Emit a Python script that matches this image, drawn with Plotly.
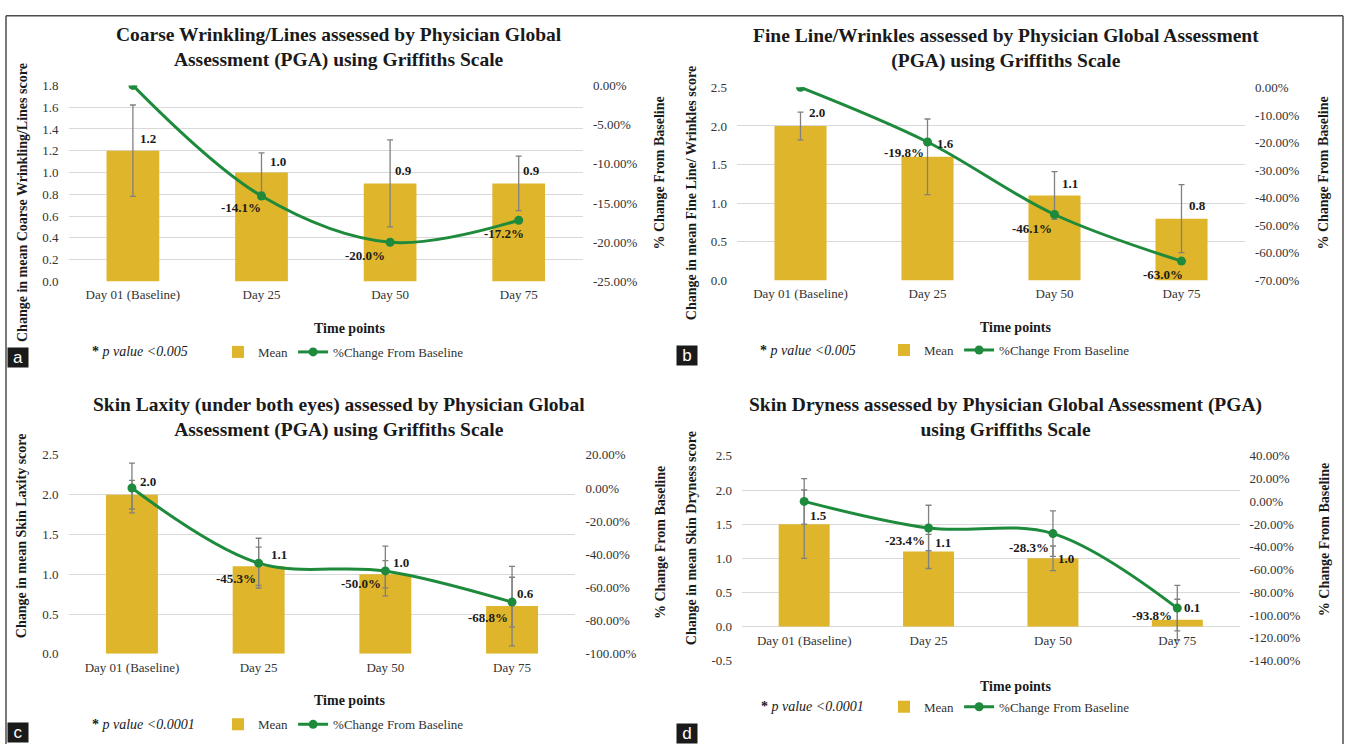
import plotly.graph_objects as go

W, H = 1345, 752

categories = ["Day 01 (Baseline)", "Day 25", "Day 50", "Day 75"]

# (a) Coarse wrinkling / lines
coarse_mean = [1.2, 1.0, 0.9, 0.9]
coarse_sd = [0.42, 0.18, 0.40, 0.25]
coarse_pct = [0.0, -14.1, -20.0, -17.2]

# (b) Fine lines / wrinkles
fine_mean = [2.0, 1.6, 1.1, 0.8]
fine_sd = [0.18, 0.49, 0.31, 0.44]
fine_pct = [0.0, -19.8, -46.1, -63.0]

# (c) Skin laxity under both eyes
laxity_mean = [2.0, 1.1, 1.0, 0.6]
laxity_sd = [0.18, 0.24, 0.17, 0.50]
laxity_pct = [0.0, -45.3, -50.0, -68.8]
laxity_pct_err = [15, 15, 15, 15]

# (d) Skin dryness
dryness_mean = [1.5, 1.1, 1.0, 0.1]
dryness_sd = [0.50, 0.25, 0.18, 0.30]
dryness_pct = [0.0, -23.4, -28.3, -93.8]
dryness_pct_err = [20, 20, 20, 20]

GOLD = "#DFB52B"
GREEN = "#1E8A3C"
ERR = "#808080"
GRID = "#D9D9D9"
INK = "#1A1A1A"
TICK = "#333333"
SERIF = "Liberation Serif"


def px_x(v):
    return v / W


def px_y(v):
    return 1 - v / H


def ticks(lo, hi, step, fmt):
    n = int(round((hi - lo) / step))
    vals = [round(lo + i * step, 6) for i in range(n + 1)]
    vals = [0.0 if abs(v) < 1e-9 else v for v in vals]
    return vals, [fmt.format(v) for v in vals]


panels = [
    dict(mean=coarse_mean, sd=coarse_sd, pct=coarse_pct, pct_err=None,
         title="Coarse Wrinkling/Lines assessed by Physician Global<br>Assessment (PGA) using Griffiths Scale",
         ytitle="Change in mean Coarse Wrinkling/Lines score", pvalue="0.005",
         y_rng=(0, 1.8, 0.2), y2_rng=(-25, 0, 5),
         box=(68.6, 80, 583, 280),
         title_xy=(339, 41.5), ytitle_xy=(22, 200), y2title_xy=(660, 170),
         xtitle_xy=(349, 328), pval_xy=(140, 352), legend_xy=(218, 352),
         letter="a", letter_xy=(18, 358),
         bar_shift=[(15, 12), (16, 11), (13, 13), (13, 13)],
         line_shift=[None, (-21, -12), (-25, -13), (-15, -13)]),
    dict(mean=fine_mean, sd=fine_sd, pct=fine_pct, pct_err=None,
         title="Fine Line/Wrinkles assessed by Physician Global Assessment<br>(PGA) using Griffiths Scale",
         ytitle="Change in mean Fine Line/ Wrinkles score", pvalue="0.005",
         y_rng=(0, 2.5, 0.5), y2_rng=(-70, 0, 10),
         box=(737, 82, 1245, 279),
         title_xy=(1006, 42.5), ytitle_xy=(691, 190), y2title_xy=(1324, 170),
         xtitle_xy=(1015, 327), pval_xy=(808, 350), legend_xy=(884, 350),
         letter="b", letter_xy=(687, 356),
         bar_shift=[(16, 13), (18, 13), (15, 12), (16, 13)],
         line_shift=[None, (-24, -11), (-23, -14), (-19, -13)]),
    dict(mean=laxity_mean, sd=laxity_sd, pct=laxity_pct, pct_err=laxity_pct_err,
         title="Skin Laxity (under both eyes) assessed by Physician Global<br>Assessment (PGA) using Griffiths Scale",
         ytitle="Change in mean Skin Laxity score", pvalue="0.0001",
         y_rng=(0, 2.5, 0.5), y2_rng=(-100, 20, 20),
         box=(68.6, 457, 575.4, 660),
         title_xy=(339, 418.5), ytitle_xy=(21, 540), y2title_xy=(660, 547),
         xtitle_xy=(349, 707.7), pval_xy=(143, 732), legend_xy=(218, 732),
         letter="c", letter_xy=(18, 740.5),
         bar_shift=[(16, 13), (20, 12), (16, 12), (13, 13)],
         line_shift=[None, (-23, -15), (-24, -13), (-24, -15)]),
    dict(mean=dryness_mean, sd=dryness_sd, pct=dryness_pct, pct_err=dryness_pct_err,
         title="Skin Dryness assessed by Physician Global Assessment (PGA)<br>using Griffiths Scale",
         ytitle="Change in mean Skin Dryness score", pvalue="0.0001",
         y_rng=(-0.5, 2.5, 0.5), y2_rng=(-140, 40, 20),
         box=(742, 458, 1239.5, 667),
         title_xy=(1005, 418.5), ytitle_xy=(691, 542), y2title_xy=(1324, 544),
         xtitle_xy=(1015, 693.3), pval_xy=(812, 714), legend_xy=(884, 714),
         letter="d", letter_xy=(687, 741.5),
         bar_shift=[(14, 9), (14, 9), (13, 0), (15, 12)],
         line_shift=[None, (-24, -12), (-24, -14), (-25, -7)]),
]

fig = go.Figure()
layout = dict(
    width=W, height=H, margin=dict(l=0, r=0, t=0, b=0),
    paper_bgcolor="white", plot_bgcolor="white",
    bargap=0.59, font=dict(family=SERIF, color=INK),
    annotations=[], shapes=[],
)

tick_font = dict(family=SERIF, size=13, color=TICK)
label_font = dict(family=SERIF, size=13, color=INK, weight="bold")

for i, p in enumerate(panels):
    k = i + 1
    xa = "x" if k == 1 else f"x{k}"
    ya_n, y2_n = 2 * k - 1, 2 * k
    ya = "y" if ya_n == 1 else f"y{ya_n}"
    y2a = f"y{y2_n}"
    left, top, right, bottom = p["box"]
    legend_id = "legend" if k == 1 else f"legend{k}"

    fig.add_trace(go.Bar(
        x=categories, y=p["mean"], name="Mean", xaxis=xa, yaxis=ya,
        marker=dict(color=GOLD, line=dict(width=0)),
        error_y=dict(type="data", array=p["sd"], color=ERR, thickness=1.3, width=3),
        legend=legend_id, hoverinfo="skip",
    ))
    line_err = None
    if p["pct_err"] is not None:
        line_err = dict(type="data", array=p["pct_err"], color=ERR, thickness=1.3, width=3)
    fig.add_trace(go.Scatter(
        x=categories, y=p["pct"], name="%Change From Baseline", xaxis=xa, yaxis=y2a,
        mode="lines+markers", line=dict(color=GREEN, width=3, shape="spline", smoothing=1),
        marker=dict(color=GREEN, size=9), error_y=line_err,
        legend=legend_id, hoverinfo="skip",
    ))

    lo, hi, st = p["y_rng"]
    y_dom = [px_y(bottom), px_y(top)]
    # category labels sit where the value axis crosses zero
    x_pos = y_dom[0] + (0 - lo) / (hi - lo) * (y_dom[1] - y_dom[0])
    layout["xaxis" if k == 1 else f"xaxis{k}"] = dict(
        domain=[px_x(left), px_x(right)], anchor="free", position=x_pos,
        type="category", showgrid=False, showline=False, zeroline=False, ticks="",
        tickfont=tick_font, ticklabelstandoff=4, fixedrange=True,
    )
    tv, tt = ticks(lo, hi, st, "{:.1f}")
    layout["yaxis" if ya_n == 1 else f"yaxis{ya_n}"] = dict(
        domain=y_dom, anchor=xa, range=[lo, hi],
        tickvals=tv, ticktext=tt, showgrid=True, gridcolor=GRID, gridwidth=1,
        zeroline=False, showline=False, ticks="", tickfont=tick_font,
        ticklabelstandoff=9, fixedrange=True,
    )
    lo2, hi2, st2 = p["y2_rng"]
    tv2, tt2 = ticks(lo2, hi2, st2, "{:.2f}%")
    layout[f"yaxis{y2_n}"] = dict(
        overlaying=ya, side="right", anchor=xa, range=[lo2, hi2],
        tickvals=tv2, ticktext=tt2, showgrid=False, zeroline=False, showline=False,
        ticks="", tickfont=tick_font, ticklabelstandoff=9, fixedrange=True,
    )

    layout[legend_id] = dict(
        x=px_x(p["legend_xy"][0]), xanchor="left",
        y=px_y(p["legend_xy"][1]), yanchor="middle",
        orientation="h", bgcolor="rgba(0,0,0,0)",
        font=dict(family=SERIF, size=13, color=TICK), itemwidth=30,
    )

    ann = layout["annotations"]
    # value labels on the bars
    for c, v, (dx, dy) in zip(categories, p["mean"], p["bar_shift"]):
        ann.append(dict(x=c, y=v, xref=xa, yref=ya, text=f"{v:.1f}", showarrow=False,
                        xshift=dx, yshift=dy, font=label_font))
    # percentage labels on the line
    for c, v, sh in zip(categories, p["pct"], p["line_shift"]):
        if sh is None:
            continue
        ann.append(dict(x=c, y=v, xref=xa, yref=y2a, text=f"{v:.1f}%", showarrow=False,
                        xshift=sh[0], yshift=sh[1], font=label_font))

    # titles
    tx, ty = p["title_xy"]
    ann.append(dict(x=px_x(tx), y=px_y(ty), xref="paper", yref="paper", text=p["title"],
                    showarrow=False, xanchor="center", yanchor="middle",
                    font=dict(family=SERIF, size=19.5, color=INK, weight="bold")))
    yx, yy = p["ytitle_xy"]
    ann.append(dict(x=px_x(yx), y=px_y(yy), xref="paper", yref="paper", text=p["ytitle"],
                    textangle=-90, showarrow=False, xanchor="center", yanchor="middle",
                    font=dict(family=SERIF, size=14, color=INK, weight="bold")))
    rx, ry = p["y2title_xy"]
    ann.append(dict(x=px_x(rx), y=px_y(ry), xref="paper", yref="paper",
                    text="% Change From Baseline",
                    textangle=-90, showarrow=False, xanchor="center", yanchor="middle",
                    font=dict(family=SERIF, size=14, color=INK, weight="bold")))
    xx, xy = p["xtitle_xy"]
    ann.append(dict(x=px_x(xx), y=px_y(xy), xref="paper", yref="paper", text="Time points",
                    showarrow=False, xanchor="center", yanchor="middle",
                    font=dict(family=SERIF, size=14, color=INK, weight="bold")))
    px_, py_ = p["pval_xy"]
    ann.append(dict(x=px_x(px_), y=px_y(py_), xref="paper", yref="paper",
                    text=f"<b>*</b> <i>p value &lt;{p['pvalue']}</i>",
                    showarrow=False, xanchor="center", yanchor="middle",
                    font=dict(family=SERIF, size=14, color=INK)))
    lx, ly = p["letter_xy"]
    ann.append(dict(x=px_x(lx), y=px_y(ly), xref="paper", yref="paper", text=p["letter"],
                    showarrow=False, xanchor="center", yanchor="middle",
                    bgcolor="#1A1A1A", width=18, height=17, borderpad=1,
                    font=dict(family="Liberation Sans", size=17, color="white")))

# outer frame (top, left and right edges)
frame = dict(type="line", xref="paper", yref="paper", line=dict(color="#4D4D4D", width=1.5))
layout["shapes"] += [
    dict(frame, x0=px_x(6), x1=px_x(1343), y0=px_y(9), y1=px_y(9)),
    dict(frame, x0=px_x(6), x1=px_x(6), y0=px_y(9), y1=0),
    dict(frame, x0=px_x(1343), x1=px_x(1343), y0=px_y(9), y1=0),
]

fig.update_layout(**layout)
fig.write_html("out.html")
